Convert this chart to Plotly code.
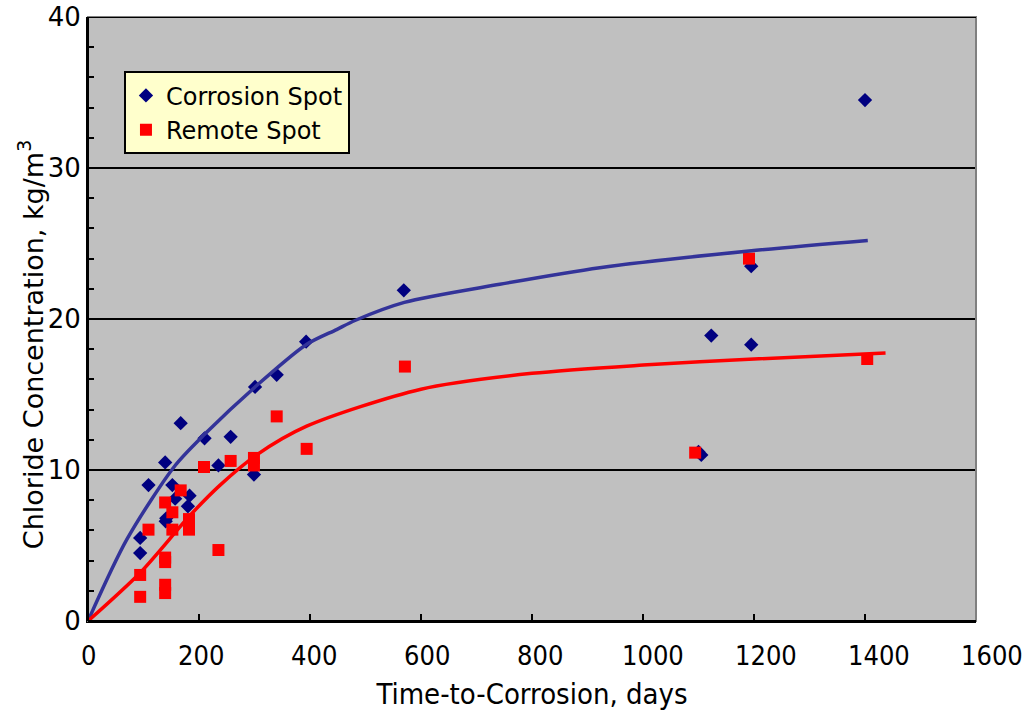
import plotly.graph_objects as go

# Measured chloride concentration at time of corrosion
corrosion_days = [94, 94, 109, 139, 140, 141, 152, 157, 167, 180, 183, 210, 235, 257,
                  299, 301, 340, 393, 569, 1100, 1105, 1123, 1195, 1195, 1400]
corrosion_cl = [4.5, 5.5, 9.0, 10.5, 6.6, 6.8, 9.0, 8.1, 13.1, 7.6, 8.3, 12.1, 10.3, 12.2,
                9.7, 15.5, 16.3, 18.5, 21.9, 11.2, 11.0, 18.9, 18.3, 23.5, 34.5]

remote_days = [94, 94, 109, 139, 139, 139, 139, 139, 152, 152, 167, 182, 182, 209,
               235, 257, 299, 299, 340, 394, 571, 1094, 1191, 1404]
remote_cl = [1.6, 3.05, 6.05, 1.85, 2.4, 3.9, 4.2, 7.85, 6.05, 7.2, 8.65, 6.05, 6.75, 10.2,
             4.7, 10.6, 10.3, 10.8, 13.55, 11.4, 16.85, 11.15, 24.0, 17.35]

# Trend curves
corr_fit_days = [0, 70, 157, 211, 301, 393, 448, 481, 570, 742, 922, 1191, 1405]
corr_fit_cl = [0, 5.4, 10.3, 12.4, 15.5, 18.3, 19.3, 19.9, 21.1, 22.3, 23.4, 24.5, 25.2]

rem_fit_days = [0, 94, 184, 238, 304, 394, 600, 800, 1000, 1200, 1437]
rem_fit_cl = [0, 3.2, 7.0, 9.0, 11.0, 12.9, 15.35, 16.4, 16.95, 17.35, 17.75]

x_max = 1600
x_ticks = [0, 200, 400, 600, 800, 1000, 1200, 1400, 1600]
y_ticks = [0, 10, 20, 30, 40]

# the day labels run slightly wider than the tick spacing
x_label_stretch = 1.018

fig = go.Figure()

fig.add_trace(go.Scatter(
    x=corrosion_days, y=corrosion_cl, mode="markers", name="Corrosion Spot",
    marker=dict(symbol="diamond", size=11, color="#000080", line=dict(width=0)),
))
fig.add_trace(go.Scatter(
    x=remote_days, y=remote_cl, mode="markers", name="Remote Spot",
    marker=dict(symbol="square", size=12, color="#FF0000", line=dict(width=0)),
))
fig.add_trace(go.Scatter(
    x=corr_fit_days, y=corr_fit_cl, mode="lines", showlegend=False,
    line=dict(color="#333399", width=3.5, shape="spline", smoothing=0.8),
))
fig.add_trace(go.Scatter(
    x=rem_fit_days, y=rem_fit_cl, mode="lines", showlegend=False,
    line=dict(color="#FF0000", width=3.5, shape="spline", smoothing=0.8),
))

y_tick_font = dict(family="DejaVu Sans", size=26, color="black")
x_tick_font = dict(family="Liberation Sans Narrow, DejaVu Sans Condensed", size=27, color="black")

annotations = [
    dict(x=v * x_label_stretch / x_max, y=0, xref="paper", yref="paper", text=str(v),
         showarrow=False, xanchor="center", yanchor="top", yshift=-17, font=x_tick_font)
    for v in x_ticks
]
annotations.append(dict(
    x=-0.064, y=0.457, xref="paper", yref="paper", textangle=-90,
    text="Chloride Concentration, kg/m<sup>3</sup>", showarrow=False,
    xanchor="center", yanchor="middle",
    font=dict(family="DejaVu Sans", size=27, color="black"),
))

fig.update_layout(
    width=1023, height=712,
    margin=dict(l=88, r=47, t=17, b=91),
    paper_bgcolor="white",
    plot_bgcolor="#C0C0C0",
    showlegend=True,
    legend=dict(
        x=0.0405, y=0.91, xanchor="left", yanchor="top",
        bgcolor="#FFFFCC", bordercolor="black", borderwidth=2,
        font=dict(family="DejaVu Sans", size=24, color="black"),
        itemwidth=30, tracegroupgap=0,
    ),
    xaxis=dict(
        range=[0, x_max], tickvals=x_ticks, showticklabels=False,
        showgrid=False, zeroline=False, automargin=False,
        showline=True, linecolor="black", linewidth=2,
        ticks="inside", ticklen=7, tickwidth=2, tickcolor="black",
        title=dict(text="Time-to-Corrosion, days",
                   font=dict(family="DejaVu Sans Condensed", size=29, color="black"),
                   standoff=62),
    ),
    yaxis=dict(
        range=[0, 40], tickvals=y_ticks, ticktext=[str(v) for v in y_ticks],
        showgrid=True, gridcolor="black", gridwidth=2,
        zeroline=False, automargin=False,
        showline=True, linecolor="black", linewidth=2,
        ticks="inside", ticklen=7, tickwidth=2, tickcolor="black",
        minor=dict(dtick=2, ticks="inside", ticklen=6, tickwidth=2, tickcolor="black", showgrid=False),
        tickfont=y_tick_font,
    ),
    annotations=annotations,
    shapes=[
        dict(type="rect", xref="paper", yref="paper", x0=0, x1=1, y0=0, y1=1,
             line=dict(color="#808080", width=2), layer="above"),
        dict(type="line", xref="paper", yref="y", x0=0, x1=1, y0=40, y1=40,
             line=dict(color="black", width=2), layer="above"),
        dict(type="line", xref="paper", yref="paper", x0=0, x1=0, y0=0, y1=1,
             line=dict(color="black", width=2), layer="above"),
        dict(type="line", xref="paper", yref="paper", x0=0, x1=1, y0=0, y1=0,
             line=dict(color="black", width=2), layer="above"),
    ],
)

fig.write_html("out.html")
